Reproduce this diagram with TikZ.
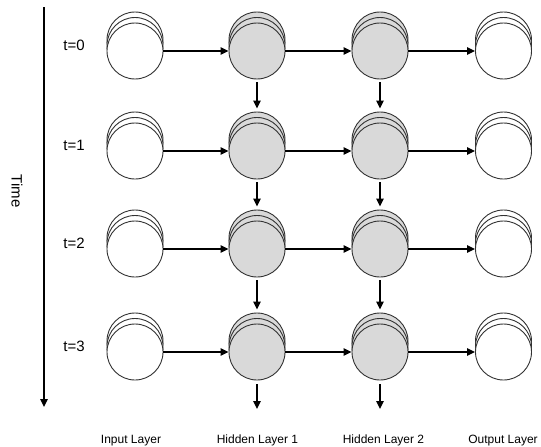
\documentclass[tikz,border=0pt]{standalone}
\usepackage{fontspec}
\setmainfont{Liberation Sans}
\usetikzlibrary{arrows.meta}
\definecolor{hidgray}{RGB}{217,217,217}
\definecolor{edgegray}{RGB}{50,50,50}
\tikzset{
  neuron/.style={circle, draw=edgegray, line width=0.9pt, minimum size=56pt, inner sep=0pt},
  plain/.style={neuron, fill=white},
  hid/.style={neuron, fill=hidgray},
  arr/.style={line width=1.3pt, -{Triangle[length=8pt,width=7.5pt]}},
  tlabel/.style={font=\fontsize{15}{17}\selectfont},
  layerlabel/.style={font=\fontsize{12}{14}\selectfont, anchor=base},
}
\begin{document}
\begin{tikzpicture}[x=1pt,y=-1pt]
\useasboundingbox (0,0) rectangle (541,447);
% columns: name/x/style
\foreach \r/\y in {0/51,1/151,2/249,3/352}{
  \foreach \c/\x/\s in {in/135/plain,ha/257/hid,hb/380/hid,out/503.5/plain}{
    \node[\s] (\c\r b) at (\x,\y-11) {};
    \node[\s] (\c\r m) at (\x,\y-5.5) {};
    \node[\s] (\c\r) at (\x,\y) {};
  }
  \node[tlabel] (t\r) at (74,\y-6) {t=\r};
  \draw[arr] (in\r.east) -- (ha\r.west);
  \draw[arr] (ha\r.east) -- (hb\r.west);
  \draw[arr] (hb\r.east) -- (out\r.west);
}
% vertical recurrent arrows
\foreach \r/\n in {0/1,1/2,2/3}{
  \draw[arr, shorten <=3pt, shorten >=3pt] (ha\r.south) -- (ha\n b.north);
  \draw[arr, shorten <=3pt, shorten >=3pt] (hb\r.south) -- (hb\n b.north);
}
\coordinate (ea) at (257,409);
\coordinate (eb) at (380,409);
\draw[arr, shorten <=4pt] (ha3.south) -- (ea);
\draw[arr, shorten <=4pt] (hb3.south) -- (eb);
% time axis
\coordinate (ttop) at (44,7);
\coordinate (tbot) at (44,407);
\draw[arr] (ttop) -- (tbot);
\node[tlabel, rotate=-90] (time) at (17,191) {Time};
% layer labels
\node[layerlabel] (lin) at (131,443) {Input Layer};
\node[layerlabel] (lh1) at (257.5,443) {Hidden Layer 1};
\node[layerlabel] (lh2) at (383.5,443) {Hidden Layer 2};
\node[layerlabel] (lout) at (503,443) {Output Layer};
\end{tikzpicture}
\end{document}
